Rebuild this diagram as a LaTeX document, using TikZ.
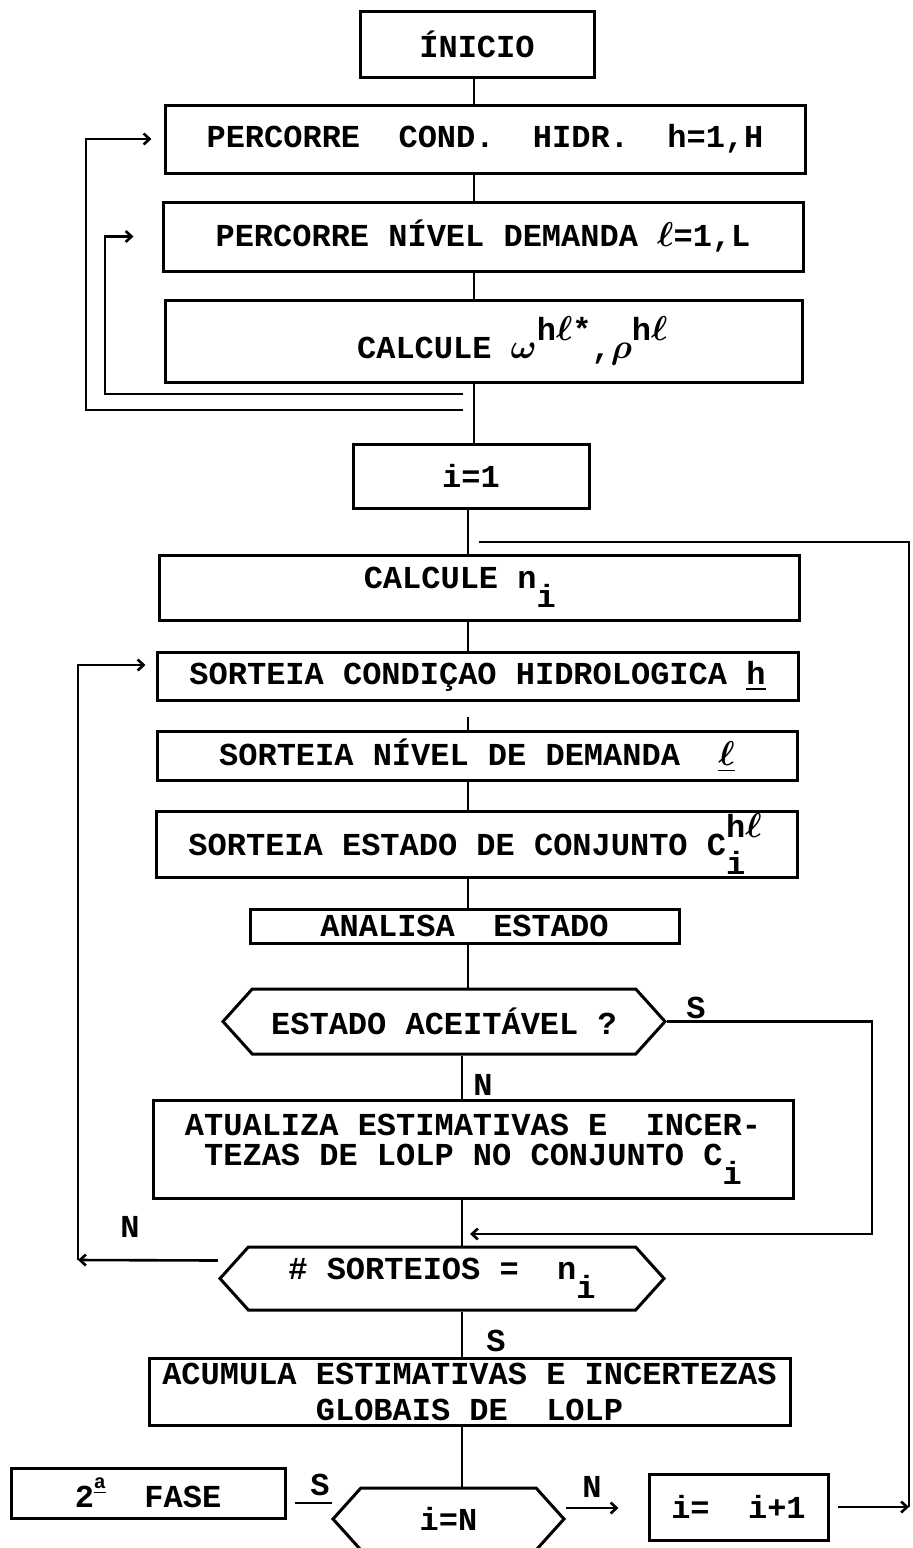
\documentclass[tikz,border=0pt]{standalone}
\usepackage{amsmath}
\usepackage{fontspec}
\setmainfont{Liberation Mono}
\usetikzlibrary{arrows.meta, shapes.symbols}
\newcommand{\sobe}[1]{\raisebox{1.05ex}{#1}}
\newcommand{\desce}[1]{\raisebox{-1.1ex}{#1}}
\newcommand{\ele}{$\boldsymbol{\ell}$}
\tikzset{
  %% -- Caixas ----------------------------------------------------------
  %% Uma caixa por passo do algoritmo; as decisoes tem as pontas em bico.
  caixa/.style   = {draw, line width=1.5pt, inner sep=0pt, align=center,
                    font=\fontsize{16}{15}\selectfont\bfseries},
  decisao/.style = {caixa, shape=signal, signal to=west and east,
                    signal pointer angle=96},
  %%
  %% -- Ligacoes --------------------------------------------------------
  linha/.style   = {line width=1.3pt},
  seta/.style    = {linha, -{Straight Barb[length=3pt, width=5.5pt]}},
  %%
  %% -- Rotulos S / N ---------------------------------------------------
  rotulo/.style  = {font=\fontsize{16}{16}\selectfont\bfseries, inner sep=0pt},
}

\begin{document}
\begin{tikzpicture}[x=0.5pt, y=-0.5pt]
\useasboundingbox (0,0) rectangle (913,1548);

%% Eixo vertical do fluxograma (o papel esta um pouco torto).
\coordinate (eixoA) at (474,0);
\coordinate (eixoB) at (468,0);
\coordinate (eixoC) at (462,0);

%% Primeira parte: percorre condicoes e niveis.
\node[caixa, minimum width=117pt, minimum height=33pt] (inicio) at (477,44) {ÍNICIO};
\node[caixa, minimum width=320pt, minimum height=34pt] (cond) at (485,139)
     {PERCORRE~ COND.~ HIDR.~ h=1,H};
\node[caixa, minimum width=320pt, minimum height=34.5pt] (nivel) at (483,236.5)
     {PERCORRE NÍVEL DEMANDA \ele=1,L};
\node[caixa, minimum width=318.5pt, minimum height=41pt] (calcw) at (483.5,341)
     {~~~CALCULE $\boldsymbol{\omega}$\sobe{h\ele*},$\boldsymbol{\rho}$\sobe{h\ele}};
\node[caixa, minimum width=118pt, minimum height=32pt] (ium) at (471,476) {i=1};

%% Sorteios do conjunto i.
\node[caixa, minimum width=320pt, minimum height=32.5pt] (calcn) at (479,587.5)
     {CALCULE n\desce{i}~~};
\node[caixa, minimum width=320.5pt, minimum height=24pt] (scond) at (477.5,676)
     {SORTEIA CONDIÇAO HIDROLOGICA \underline{h}};
\node[caixa, minimum width=320pt, minimum height=24.5pt] (sniv) at (477,755.5)
     {SORTEIA NÍVEL DE DEMANDA~ \underline{\ele}};
\node[caixa, minimum width=320.5pt, minimum height=33pt] (sest) at (476.5,844)
     {SORTEIA ESTADO DE CONJUNTO C\rlap{\sobe{h\ele}}\desce{i}~};
\node[caixa, minimum width=214.5pt, minimum height=17pt] (anal) at (464.5,926)
     {ANALISA~ ESTADO};
\node[decisao, minimum width=221pt, minimum height=32.5pt] (aceit) at (444,1021.5)
     {ESTADO ACEITÁVEL ?};
\node[caixa, minimum width=320pt, minimum height=49pt] (atual) at (473,1149)
     {ATUALIZA ESTIMATIVAS E~ INCER-\\TEZAS DE LOLP NO CONJUNTO C\desce{i}};
\node[decisao, minimum width=222pt, minimum height=31.5pt] (nsort) at (442,1278.5)
     {\# SORTEIOS =~ n\desce{i}};
\node[caixa, minimum width=320.5pt, minimum height=33.5pt] (acum) at (469.5,1391.5)
     {ACUMULA ESTIMATIVAS E INCERTEZAS\\[3pt]GLOBAIS DE~ LOLP};

%% Fim do conjunto i.
\node[decisao, minimum width=115.5pt, minimum height=31pt] (iN) at (448.5,1519) {i=N};
\node[caixa, minimum width=137pt, minimum height=25pt] (fase) at (148,1493)
     {2\raisebox{1.1ex}{\fontsize{10}{10}\selectfont\underline{a}}~ FASE};
\node[caixa, minimum width=89.5pt, minimum height=33pt] (ipp) at (738.5,1507) {i=~ i+1};

%% Eixo principal.
\draw[linha] (inicio.south -| eixoA) -- (cond.north -| eixoA);
\draw[linha] (cond.south -| eixoA) -- (nivel.north -| eixoA);
\draw[linha] (nivel.south -| eixoA) -- (calcw.north -| eixoA);
\draw[linha] (calcw.south -| eixoA) -- (ium.north -| eixoA);
\draw[linha] (ium.south -| eixoB) -- (calcn.north -| eixoB);
\draw[linha] (calcn.south -| eixoB) -- (scond.north -| eixoB);
\draw[linha] (scond.south -| eixoB) ++(0,15) -- (sniv.north -| eixoB);
\draw[linha] (sniv.south -| eixoB) -- (sest.north -| eixoB);
\draw[linha] (sest.south -| eixoB) -- (anal.north -| eixoB);
\draw[linha] (anal.south -| eixoB) -- (aceit.north -| eixoB);
\draw[linha] (aceit.south -| eixoC) -- (atual.north -| eixoC);
\draw[linha] (atual.south -| eixoC) -- (nsort.north -| eixoC);
\draw[linha] (nsort.south -| eixoC) -- (acum.north -| eixoC);
\draw[linha] (acum.south -| eixoC) -- (iN.north -| eixoC);

%% Lacos da primeira parte.
\coordinate (retH) at (463,410);
\coordinate (cantoH) at (86,410);
\coordinate (retL) at (463,394);
\coordinate (cantoL) at (105,394);
\draw[seta, shorten >=6pt] (retH) -- (cantoH) |- (cond.west);
\draw[seta, shorten >=14pt] (retL) -- (cantoL) |- (nivel.west);

%% Retorno ao proximo conjunto.
\coordinate (retI) at (479,542);
\coordinate (cantoI) at (909,542);
\draw[linha] (retI) -- (cantoI) -- (cantoI |- ipp.east);
\draw[seta, shorten <=4pt] (ipp.east) -- (ipp.east -| cantoI);

%% Estado aceitavel.
\coordinate (cantoS) at (872,1234);
\draw[seta, shorten >=4pt] (aceit.east) -| (cantoS) -- (cantoS -| eixoC);
\node[rotulo] (rS1) at (696,1008) {S};
\node[rotulo] (rN1) at (483,1085) {N};

%% Novo sorteio.
\coordinate (cantoN) at (78,1260);
\draw[seta] (nsort.west) ++(0,-18) -- (cantoN);
\draw[seta, shorten >=5pt] (cantoN) |- ([yshift=5.5pt]scond.west);
\node[rotulo] (rN2) at (130,1227) {N};
\node[rotulo] (rS2) at (496,1341) {S};

%% Teste i=N.
\coordinate (ligS) at (332,1503);
\coordinate (ligN) at (566,1508);
\draw[linha, shorten >=4pt] (ligS) -- (ligS -| fase.east);
\draw[seta, shorten >=14.5pt] (ligN) -- (ligN -| ipp.west);
\node[rotulo] (rS3) at (320,1485) {S};
\node[rotulo] (rN3) at (592,1487) {N};

\end{tikzpicture}
\end{document}
